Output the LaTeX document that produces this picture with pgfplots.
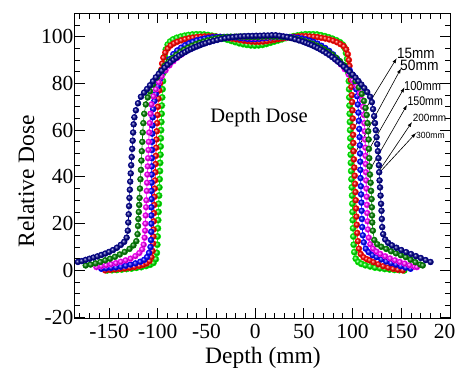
\documentclass[border=0pt]{standalone}
\usepackage{fontspec}
\setmainfont{Liberation Serif}
\newfontfamily\arial{Liberation Sans}
\usepackage{pgfplots}
\pgfplotsset{compat=1.18}
\usetikzlibrary{arrows.meta}
\definecolor{cgreen}{RGB}{0,240,0}
\definecolor{cred}{RGB}{255,0,0}
\definecolor{cblue}{RGB}{0,0,255}
\definecolor{cmag}{RGB}{255,0,255}
\definecolor{cdkgreen}{RGB}{0,128,0}
\definecolor{cnavy}{RGB}{0,0,140}
\begin{document}
\begin{tikzpicture}
\begin{axis}[
  scale only axis, width=375pt, height=305pt,
  xmin=-185, xmax=200, ymin=-20.5, ymax=110,
  xtick={-150,-100,-50,0,50,100,150,200},
  xticklabels={-150,-100,-50,0,50,100,150,200},
  ytick={-20,0,20,40,60,80,100},
  yticklabels={-20,0,20,40,60,80,100},
  minor xtick={-180,-170,...,200},
  minor ytick={-20,-15,...,110},
  tick align=inside, major tick length=10pt, minor tick length=5.5pt,
  tick style={black, line width=0.8pt},
  axis line style={line width=1pt},
  ticklabel style={font=\fontsize{21.5}{21.5}\selectfont, inner sep=1.5pt},
  xticklabel style={yshift=-4pt},
  every axis plot/.append style={line width=0.6pt},
]
\addplot[cgreen, mark=ball, mark size=3.1pt, mark options={ball color=cgreen}] coordinates {
(-152,0) (-147,0.1) (-142,0.2) (-137,0.4) (-132,0.6) (-127,0.8) (-122,1.1) (-117,1.4) (-112,1.9) (-108,2.4) (-104.5,3.2) (-102,4.8) (-101,7.5) (-100.5,11) (-100.2,14.5) (-99.9,18) (-99.6,21.5) (-99.3,25) (-99,28.5) (-98.7,32) (-98.4,35.5) (-98.1,39) (-97.8,42.5) (-97.6,46) (-97.3,49.5) (-97.1,53) (-96.9,56.5) (-96.6,60) (-96.4,63.5) (-96.1,67) (-95.8,70.5) (-95.5,74) (-95.1,77.5) (-94.7,81) (-94.3,84.5) (-93.7,88) (-92.9,91.5) (-91.7,94.5) (-89.8,96.6) (-87.3,97.9) (-84.3,98.8) (-80.5,99.5) (-76.5,100) (-72.5,100.4) (-68.5,100.7) (-64.5,100.9) (-60.5,101) (-56.5,101) (-52.5,100.9) (-48.5,100.7) (-44.5,100.4) (-40.5,100.1) (-36.5,99.7) (-32.5,99.2) (-28.5,98.7) (-24.5,98.2) (-20.5,97.7) (-16.5,97.2) (-12.5,96.8) (-8.5,96.5) (-4.5,96.3) (-0.5,96.2) (3.5,96.3) (7.5,96.5) (11.5,96.9) (15.5,97.4) (19.5,97.9) (23.5,98.4) (27.5,98.9) (31.5,99.4) (35.5,99.8) (39.5,100.2) (43.5,100.5) (47.5,100.8) (51.5,101) (55.5,101) (59.5,101) (63.5,100.9) (67.5,100.6) (71.5,100.2) (75.5,99.7) (79.5,99.1) (83.5,98.4) (87,97.6) (89.8,96.6) (91.8,95.2) (93.3,93) (94.4,90.5) (95.2,87.5) (95.8,84.5) (96.2,81) (96.5,77.5) (96.7,74) (96.9,70.5) (97.1,67) (97.3,63.5) (97.5,60) (97.7,56.5) (97.9,53) (98.1,49.5) (98.3,46) (98.6,42.5) (98.9,39) (99.2,35.5) (99.5,32) (99.8,28.5) (100,25) (100.2,21.5) (100.5,18) (100.8,14.5) (101.2,11) (101.8,7.8) (103.3,5) (105.8,3.6) (109,2.8) (113,2.2) (118,1.7) (123,1.2) (128,0.9) (133,0.6) (138,0.4) (143,0.2) (148,0.1) (153,0)
};
\addplot[cred, mark=ball, mark size=2.9pt, mark options={ball color=cred}] coordinates {
(-154,0) (-149,0.2) (-144,0.4) (-139,0.6) (-134,0.8) (-129,1.1) (-124,1.4) (-119,1.9) (-115,2.4) (-111.5,3.0) (-108.5,4.0) (-106.5,5.7) (-105.3,8.3) (-104.8,11.5) (-104.5,14.5) (-104.3,17.5) (-104.1,21) (-103.9,24.5) (-103.7,28) (-103.4,31.5) (-103.1,35) (-102.8,38.5) (-102.5,42) (-102.3,45.5) (-102,49) (-101.7,52.5) (-101.4,56) (-101.1,59.5) (-100.7,63) (-100.3,66.5) (-99.9,70) (-99.3,73.5) (-98.5,77) (-97.8,80) (-97,83) (-96.3,86) (-95.5,88.5) (-94.3,91) (-92.3,93.2) (-89.8,94.9) (-86.8,96.2) (-83.5,97.1) (-80,97.8) (-76,98.4) (-72,98.9) (-68,99.3) (-64,99.6) (-60,99.8) (-56,100) (-52,100.1) (-48,100.1) (-44,100.1) (-40,100) (-36,99.9) (-32,99.7) (-28,99.5) (-24,99.2) (-20,98.9) (-16,98.6) (-12,98.3) (-8,98.1) (-4,97.9) (0,97.8) (4,97.8) (8,97.9) (12,98.1) (16,98.4) (20,98.7) (24,99) (28,99.3) (32,99.6) (36,99.8) (40,100) (44,100.1) (48,100.2) (52,100.2) (56,100.1) (60,100) (64,99.8) (68,99.5) (72,99.2) (76,98.8) (80,98.3) (84,97.6) (87.5,96.8) (91,95.9) (93.5,94.5) (95.2,92.5) (96.2,90) (96.9,87.5) (97.6,84.5) (98.2,81.5) (98.7,78.5) (99.2,75) (99.6,72) (99.9,68.5) (100.2,65) (100.4,61.5) (100.6,58) (100.8,54.5) (101,51) (101.4,47.5) (101.8,44) (102.2,40.5) (102.6,37) (103,33.5) (103.3,30) (103.6,26.5) (103.9,23) (104.3,19.5) (104.8,16) (105.5,12.5) (106.5,9.3) (108.3,7) (111.3,5.6) (114.5,4.8) (117.5,4.3) (121.5,3.5) (126.5,2.6) (131.5,1.8) (136.5,1.2) (141.5,0.7) (146.5,0.3) (151.5,0)
};
\addplot[cblue, mark=ball, mark size=2.9pt, mark options={ball color=cblue}] coordinates {
(-158,0.7) (-153,0.9) (-148,1.1) (-143,1.3) (-138,1.6) (-133,2.0) (-128,2.5) (-123,3.0) (-118,3.7) (-114,4.5) (-111,5.7) (-109,7.5) (-107.5,10) (-107,13) (-106.8,16.5) (-106.7,20) (-106.7,23.5) (-106.6,27) (-106.5,30.5) (-106.5,34) (-106.4,37.5) (-106.3,41) (-106.2,44.5) (-106.1,48) (-106,51.5) (-105.9,55) (-105.7,58.5) (-105.5,62) (-105.2,65.5) (-104.8,69) (-103.5,72.5) (-102,75.5) (-100,78.7) (-97.5,82) (-95,85) (-92,87.7) (-88,90.3) (-84,92.5) (-80,94.1) (-76,95.3) (-72,96.3) (-68,97.1) (-64,97.8) (-60,98.4) (-56,98.8) (-52,99.2) (-48,99.5) (-44,99.7) (-40,99.8) (-36,99.9) (-32,99.9) (-28,99.9) (-24,99.8) (-20,99.7) (-16,99.5) (-12,99.3) (-8,99.1) (-4,99) (0,99) (4,99.1) (8,99.3) (12,99.5) (16,99.7) (20,99.8) (24,99.9) (28,99.9) (32,99.9) (36,99.8) (40,99.7) (44,99.5) (48,99.2) (52,98.8) (56,98.3) (60,97.7) (64,97) (68,96.1) (72,95.1) (76,93.9) (80,92.4) (84,90.6) (88,88.5) (92,87.2) (97,85.6) (100.5,83.4) (102.5,80.5) (103.8,77.5) (104.7,74.5) (105.4,71) (106,67.5) (106.5,64) (106.9,60.5) (107.2,57) (107.5,53.5) (107.7,50) (107.9,46.5) (108,43) (108.2,39.5) (108.5,36) (108.8,32.5) (109.1,29) (109.3,25.5) (109.6,22) (109.9,18.5) (110.5,15) (111.5,12) (113.5,9.3) (116.5,7.8) (120.5,6.5) (124.5,5.7) (129.5,4.7) (134.5,3.8) (139.5,3.1) (144.5,2.5) (149.5,1.8) (154.5,1.2) (159.5,0.7)
};
\addplot[cmag, mark=ball, mark size=2.9pt, mark options={ball color=cmag}] coordinates {
(-163,1.4) (-158,1.8) (-153,2.2) (-148,2.6) (-143,3.1) (-138,3.7) (-133,4.3) (-128,5.0) (-123,6.1) (-119,7.4) (-116,9.0) (-114.5,11) (-113.5,14) (-113,17) (-112.7,20) (-112.4,23.5) (-112,27) (-111.7,30) (-111.3,34) (-111,37.5) (-110.7,41) (-110.3,44.5) (-110,48) (-109.6,51.5) (-109.3,55) (-108.8,59) (-108.3,63) (-107.5,67) (-106.5,71) (-104.5,74.5) (-102,77.5) (-99,80.5) (-96,83) (-92,85.6) (-88,87.7) (-84,89.5) (-80,91) (-76,92.3) (-72,93.5) (-68,94.5) (-64,95.4) (-60,96.2) (-56,96.9) (-52,97.5) (-48,98) (-44,98.5) (-40,98.9) (-36,99.2) (-32,99.5) (-28,99.7) (-24,99.8) (-20,99.9) (-16,99.9) (-12,99.8) (-8,99.7) (-4,99.6) (0,99.6) (4,99.7) (8,99.8) (12,99.9) (16,100) (20,100) (24,100) (28,99.9) (32,99.7) (36,99.5) (40,99.2) (44,98.8) (48,98.3) (52,97.8) (56,97.2) (60,96.5) (64,95.7) (68,94.8) (72,93.8) (76,92.6) (80,91.3) (84,89.8) (88,88.1) (92,86.1) (96,83.8) (100,81.4) (104,79) (107.5,75.8) (109.5,73) (110.7,70) (111.6,66.5) (112.1,63) (112.5,59.5) (112.8,56) (113.1,52.5) (113.3,49) (113.5,45.5) (113.7,42) (113.9,38.5) (114.2,35) (114.5,31.5) (114.8,28) (115.1,24.5) (115.4,21) (115.8,17.5) (116.6,14) (118.2,11.2) (121,9.3) (124.5,8.0) (128.5,7.0) (133.5,6.0) (138.5,5.1) (143.5,4.3) (148.5,3.6) (153.5,2.9) (158.5,2.2) (163.5,1.6) (166,1.4)
};
\addplot[cdkgreen, mark=ball, mark size=2.9pt, mark options={ball color=cdkgreen}] coordinates {
(-174,2.1) (-169,2.5) (-164,3.0) (-159,3.6) (-154,4.3) (-149,5.0) (-144,5.8) (-139,6.8) (-134,7.9) (-129,9.2) (-125,10.7) (-122,12.5) (-120.8,15.5) (-120.3,19) (-119.9,22) (-119.5,25) (-119.1,28) (-118.7,31) (-118.3,35) (-117.8,39) (-117.3,43) (-116.8,47) (-116.4,51) (-115.9,55) (-115.5,59) (-114.8,63) (-113.9,67) (-112.3,71) (-110.3,74) (-108,76.6) (-105,79.5) (-101,82.5) (-97,85.2) (-93,87.5) (-89,89.3) (-85,90.8) (-81,92.2) (-77,93.4) (-73,94.4) (-69,95.3) (-65,96.1) (-61,96.8) (-57,97.4) (-53,97.9) (-49,98.4) (-45,98.8) (-41,99.2) (-37,99.5) (-33,99.7) (-29,99.9) (-25,100) (-21,100) (-17,100) (-13,100) (-9,99.9) (-5,99.9) (-1,99.9) (3,99.9) (7,100) (11,100) (15,100) (19,100) (23,100) (27,99.9) (31,99.8) (35,99.6) (39,99.3) (43,98.9) (47,98.5) (51,98) (55,97.5) (59,96.9) (63,96.2) (67,95.4) (71,94.5) (75,93.5) (79,92.3) (83,91) (87,89.5) (91,87.8) (95,85.7) (99,83.5) (103,81) (106.5,78.3) (109.5,75.5) (111.8,72.5) (113.3,69.5) (114.5,66.5) (115.4,63) (116,59.5) (116.5,56) (116.8,52) (117.1,48) (117.4,44.5) (117.9,41) (118.5,37.5) (119,34) (119.5,30.5) (119.8,27) (120,23.5) (120.2,20.5) (120.8,17) (122.3,13) (125.3,11.2) (129.5,10.1) (134.5,9.2) (139.5,8.2) (144.5,7.3) (149.5,6.5) (154.5,5.7) (159.5,4.6) (164.5,3.5) (169.5,2.5) (172,2.1)
};
\addplot[cnavy, mark=ball, mark size=2.9pt, mark options={ball color=cnavy}] coordinates {
(-182,3.6) (-178,4.0) (-174,4.5) (-170,5.0) (-166,5.5) (-162,6.0) (-158,6.6) (-154,7.2) (-150,7.9) (-146,8.7) (-142,9.7) (-138,10.9) (-134.5,12.2) (-132,14.0) (-130.8,17) (-130.3,20.5) (-129.9,24) (-129.5,27.5) (-129.1,31) (-128.7,34.5) (-128.3,38) (-127.8,41.5) (-127.3,45) (-126.8,48.5) (-126.3,52) (-125.8,55.5) (-125.3,59) (-124.8,62.5) (-124,65.5) (-122.5,68.5) (-120.3,71.5) (-117.3,74.3) (-114,76.1) (-111,77.6) (-108,79.2) (-105,80.9) (-102,82.6) (-99,84.1) (-96,85.5) (-93,86.8) (-90,88) (-87,89.1) (-84,90.1) (-81,91) (-78,91.9) (-75,92.7) (-72,93.4) (-69,94.1) (-66,94.7) (-63,95.3) (-60,95.8) (-57,96.3) (-54,96.8) (-51,97.2) (-47,97.7) (-43,98.2) (-39,98.6) (-35,99) (-31,99.3) (-27,99.6) (-23,99.8) (-19,100) (-15,100.1) (-11,100.2) (-7,100.3) (-3,100.3) (1,100.4) (5,100.4) (9,100.5) (13,100.5) (17,100.6) (21,100.6) (25,100.4) (29,100.1) (33,99.8) (37,99.4) (41,98.9) (45,98.4) (49,97.9) (52,97.4) (55,96.9) (58,96.4) (61,95.8) (64,95.2) (67,94.5) (70,93.8) (73,93) (76,92.2) (79,91.3) (82,90.3) (85,89.3) (88,88.3) (91,87.2) (94,86.1) (97,85) (100,83.8) (103,82.5) (106,81) (109,79.5) (112,78) (115,76.3) (118,74.3) (119.8,72) (121,69) (122.1,66) (123,63) (123.8,60) (124.6,57) (125.3,54) (126,51) (126.6,48) (127,45) (127.3,42) (127.7,38.5) (128.2,35.5) (128.7,32) (129.2,28.5) (129.7,25.5) (130,22) (130.4,18.5) (131.4,15.5) (133.5,13.2) (136.5,11.8) (140.5,10.7) (145,9.7) (150,8.7) (155,7.8) (160,7.0) (165,6.1) (170,5.3) (175,4.4) (180,3.6)
};
% annotations
\node[font=\fontsize{20.5}{20.5}\selectfont] at (axis cs:4,65.5) {Depth Dose};
\begin{scope}[line width=0.6pt, -{Latex[length=5pt,width=3.5pt]}]
\draw (axis cs:99.1,59.4) -- (axis cs:145.3,90.8);
\draw (axis cs:102.5,50.1) -- (axis cs:149.7,86.4);
\draw (axis cs:112.7,48.7) -- (axis cs:153.3,78.3);
\draw (axis cs:119.6,44.4) -- (axis cs:155.9,70.8);
\draw (axis cs:126.1,41.9) -- (axis cs:161,63.5);
\draw (axis cs:128.1,42.1) -- (axis cs:165.1,58.8);
\end{scope}
\node[anchor=west, inner sep=0pt, xscale=0.9, font=\arial\fontsize{15}{15}\selectfont] at (axis cs:145.5,92.7) {15mm};
\node[anchor=west, inner sep=0pt, xscale=0.92, font=\arial\fontsize{15}{15}\selectfont] at (axis cs:148.7,87.6) {50mm};
\node[anchor=west, inner sep=0pt, xscale=0.85, font=\arial\fontsize{13}{13}\selectfont] at (axis cs:152.8,78.9) {100mm};
\node[anchor=west, inner sep=0pt, xscale=0.85, font=\arial\fontsize{12.5}{12.5}\selectfont] at (axis cs:156.2,72.4) {150mm};
\node[anchor=west, inner sep=0pt, xscale=0.95, font=\arial\fontsize{10.5}{10.5}\selectfont] at (axis cs:161.7,65.3) {200mm};
\node[anchor=west, inner sep=0pt, xscale=0.95, font=\arial\fontsize{9}{9}\selectfont] at (axis cs:165.1,57.6) {300mm};
\end{axis}
\node[rotate=90, font=\fontsize{23.5}{23.5}\selectfont] at (-49pt,137pt) {Relative Dose};
\node[font=\fontsize{23.5}{23.5}\selectfont] at (188pt,-40pt) {Depth (mm)};
\pgfresetboundingbox
\path (-75pt,-55.7pt) rectangle (381pt,318.3pt);
\end{tikzpicture}
\end{document}
